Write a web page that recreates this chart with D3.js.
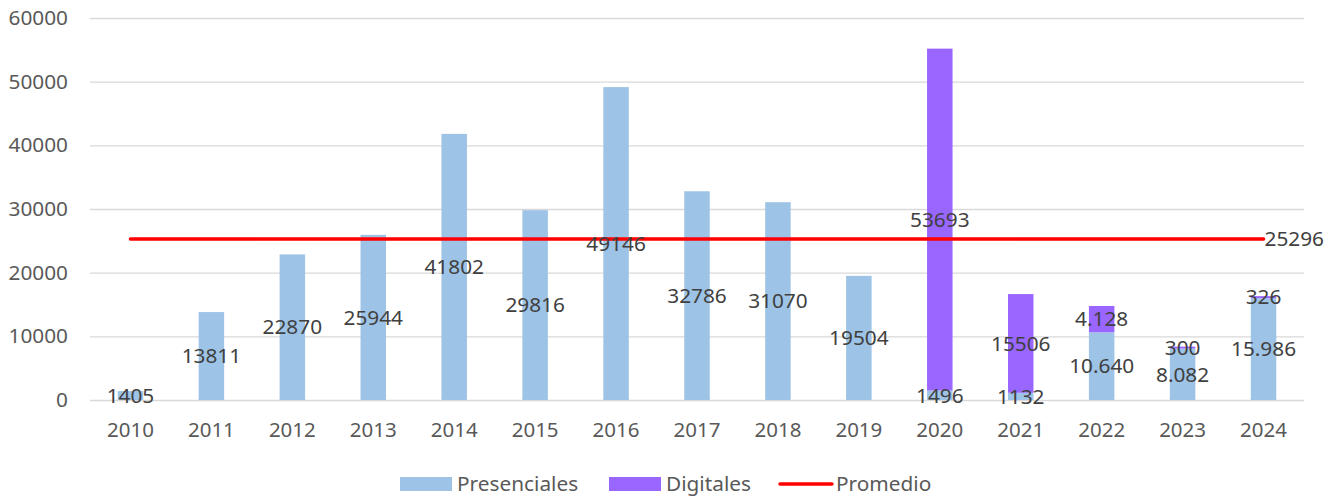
<!DOCTYPE html>
<html>
<head>
<meta charset="utf-8">
<script src="https://cdn.jsdelivr.net/npm/d3@7"></script>
<style>
  html, body { margin: 0; padding: 0; background: #fff; }
  svg { display: block; font-family: "Noto Sans", "Open Sans", sans-serif; }
</style>
</head>
<body>
<svg id="chart" width="1341" height="498"></svg>
<script>
// Annual participants by modality
const years = ["2010","2011","2012","2013","2014","2015","2016","2017","2018","2019","2020","2021","2022","2023","2024"];
const presenciales = [1405, 13811, 22870, 25944, 41802, 29816, 49146, 32786, 31070, 19504, 1496, 1132, 10640, 8082, 15986];
const digitales    = [0, 0, 0, 0, 0, 0, 0, 0, 0, 0, 53693, 15506, 4128, 300, 326];
const promedio = 25296;
const yTicks = [0, 10000, 20000, 30000, 40000, 50000, 60000];
// years whose labels use dotted thousands grouping
const dottedYears = ["2022", "2023", "2024"];

const svg = d3.select("#chart");
const margin = { left: 90, right: 1304, top: 18, bottom: 400 };

const x = d3.scaleBand().domain(years).range([margin.left, margin.right]).paddingInner(0.685).paddingOuter(0.3425);
const y = d3.scaleLinear().domain([0, 60000]).range([margin.bottom, margin.top]);

const esLocale = d3.formatLocale({ decimal: ",", thousands: ".", grouping: [3], currency: ["", ""] });
const fmtDot = esLocale.format(",d");
const fmtPlain = d3.format("d");
const labelFor = (year, v) => dottedYears.includes(year) ? fmtDot(v) : fmtPlain(v);

// gridlines and y tick labels
const yAxis = d3.axisLeft(y).tickValues(yTicks).tickSize(-(margin.right - margin.left)).tickFormat(d3.format("d")).tickPadding(22);
const gy = svg.append("g").attr("transform", `translate(${margin.left},0)`).call(yAxis);
gy.select(".domain").remove();
gy.selectAll(".tick line").attr("stroke", "#d9d9d9").attr("stroke-width", 1.3);
gy.selectAll(".tick text").attr("fill", "#595959").attr("font-size", 20.8).attr("font-family", "'Noto Sans', sans-serif");

// x axis labels
const xAxis = d3.axisBottom(x).tickSize(0).tickPadding(22);
const gx = svg.append("g").attr("transform", `translate(0,${margin.bottom})`).call(xAxis);
gx.select(".domain").remove();
gx.selectAll(".tick text").attr("fill", "#595959").attr("font-size", 20.5).attr("font-family", "'Noto Sans', sans-serif");

// stacked bars
const rows = years.map((yr, i) => ({ year: yr, Presenciales: presenciales[i], Digitales: digitales[i] }));
const keys = ["Presenciales", "Digitales"];
const colors = { Presenciales: "#9dc3e6", Digitales: "#9966ff" };
const stacked = d3.stack().keys(keys)(rows);

const layers = svg.append("g").selectAll("g").data(stacked).join("g").attr("fill", d => colors[d.key]);
layers.selectAll("rect").data(d => d.filter(s => s[1] - s[0] > 0)).join("rect")
  .attr("x", d => x(d.data.year))
  .attr("width", x.bandwidth())
  .attr("y", d => y(d[1]))
  .attr("height", d => y(d[0]) - y(d[1]));

// average line
const avgLine = d3.line().x(d => d[0]).y(d => d[1]);
const xFirst = x(years[0]) + x.bandwidth() / 2;
const xLast = x(years[years.length - 1]) + x.bandwidth() / 2;
svg.append("path")
  .attr("d", avgLine([[xFirst, y(promedio)], [xLast, y(promedio)]]))
  .attr("stroke", "#ff0000").attr("stroke-width", 3.5).attr("stroke-linecap", "round").attr("fill", "none");

// value labels centred on each segment
const labels = svg.append("g").attr("font-size", 20.8).attr("fill", "#404040").attr("text-anchor", "middle");
stacked.forEach(layer => {
  layer.filter(s => s[1] - s[0] > 0).forEach(s => {
    labels.append("text")
      .attr("x", x(s.data.year) + x.bandwidth() / 2)
      .attr("y", y((s[0] + s[1]) / 2))
      .attr("dy", "0.35em")
      .text(labelFor(s.data.year, s[1] - s[0]));
  });
});
svg.append("text")
  .attr("x", xLast + 1).attr("y", y(promedio)).attr("dy", "0.35em")
  .attr("font-size", 20.8).attr("fill", "#404040")
  .text(fmtPlain(promedio));

// legend
const legend = svg.append("g").attr("font-size", 20.8).attr("fill", "#595959");
const legendItems = [
  { name: "Presenciales", type: "rect", color: colors.Presenciales, x: 400 },
  { name: "Digitales", type: "rect", color: colors.Digitales, x: 609 },
  { name: "Promedio", type: "line", color: "#ff0000", x: 779 }
];
const ly = 484;
legendItems.forEach(it => {
  if (it.type === "rect") {
    legend.append("rect").attr("x", it.x).attr("y", ly - 7).attr("width", 52).attr("height", 14).attr("fill", it.color);
  } else {
    legend.append("line").attr("x1", it.x + 1).attr("x2", it.x + 53).attr("y1", ly).attr("y2", ly)
      .attr("stroke", it.color).attr("stroke-width", 3.5).attr("stroke-linecap", "round");
  }
  legend.append("text").attr("x", it.x + 57).attr("y", ly).attr("dy", "0.35em").text(it.name);
});
</script>
</body>
</html>
